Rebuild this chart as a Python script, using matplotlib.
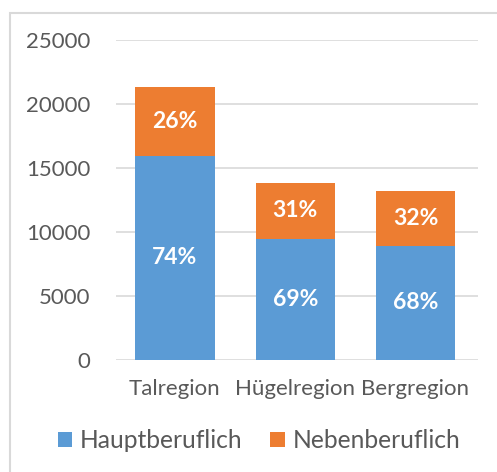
#!/usr/bin/env python3
"""Stacked bars: Haupt- vs. nebenberufliche Betriebe je Region."""

import matplotlib.pyplot as plt
from matplotlib.patches import Rectangle

regions = ["Talregion", "Hügelregion", "Bergregion"]
haupt = [15920, 9450, 8900]
neben = [5430, 4340, 4290]
haupt_pct = ["74%", "69%", "68%"]
neben_pct = ["26%", "31%", "32%"]
yticks = [0, 5000, 10000, 15000, 20000, 25000]

BLUE = "#5B9BD5"
ORANGE = "#ED7D31"
GREY = "#595959"

plt.rcParams["font.family"] = ["Lato", "DejaVu Sans"]

fig = plt.figure(figsize=(4.97, 4.72), dpi=100)
ax = fig.add_axes([0.2334, 0.2383, 0.7284, 0.677])

x = list(range(len(regions)))
b1 = ax.bar(x, haupt, width=0.66, color=BLUE, label="Hauptberuflich", zorder=3)
b2 = ax.bar(x, neben, width=0.66, bottom=haupt, color=ORANGE,
            label="Nebenberuflich", zorder=3)

for i in x:
    ax.text(i, haupt[i] / 2, haupt_pct[i], ha="center", va="center",
            color="white", fontsize=16.5, fontweight="bold", zorder=4)
    ax.text(i, haupt[i] + neben[i] / 2, neben_pct[i], ha="center", va="center",
            color="white", fontsize=16.5, fontweight="bold", zorder=4)

ax.set_xlim(-0.49, 2.52)
ax.set_ylim(0, 25000)
ax.set_yticks(yticks)
ax.set_xticks(x)
ax.set_xticklabels(regions)
ax.tick_params(axis="y", length=0, pad=18.5, labelsize=16, labelcolor=GREY)
ax.tick_params(axis="x", length=0, pad=14, labelsize=16, labelcolor=GREY)
ax.grid(axis="y", color="#D9D9D9", linewidth=1.2, zorder=0)
for s in ax.spines.values():
    s.set_visible(False)

fig.legend(handles=[b1, b2], loc="center", bbox_to_anchor=(0.521, 0.066),
           ncol=2, frameon=False, fontsize=17.7, labelcolor=GREY,
           handlelength=0.6, handleheight=0.6, handletextpad=0.32,
           columnspacing=1.1)

# outer chart frame
fig.patches.append(Rectangle((0.02, -0.05), 1.2, 1.022, transform=fig.transFigure,
                             fill=False, edgecolor="#D9D9D9", linewidth=1.5))

fig.savefig("out.png", dpi=100)
